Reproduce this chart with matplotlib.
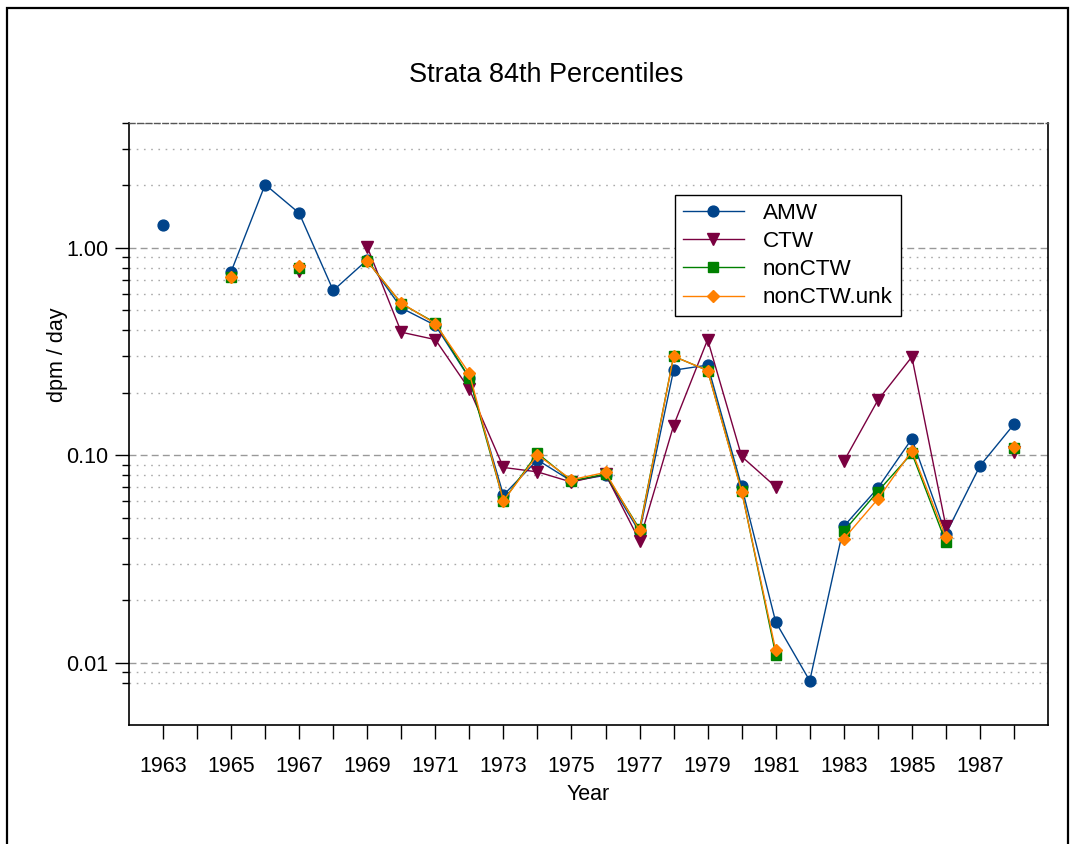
import numpy as np
import matplotlib
matplotlib.use('Agg')
import matplotlib.pyplot as plt
from matplotlib.patches import Rectangle
from matplotlib.ticker import FixedLocator, NullFormatter, FixedFormatter

plt.rcParams['font.family'] = ['Liberation Sans', 'DejaVu Sans']

nan = np.nan
years = list(range(1963, 1989))
amw = [1.29, nan, 0.767, 2.02, 1.47, 0.623, 0.875, 0.513, 0.423, 0.235,
       0.0642, 0.0949, 0.075, 0.080, 0.0426, 0.257, 0.272, 0.0707, 0.0157,
       0.00817, 0.0454, 0.0694, 0.120, 0.0417, 0.0888, 0.141]
ctw = [nan, nan, nan, nan, 0.77, nan, 1.01, 0.392, 0.361, 0.208,
       0.0873, 0.0831, 0.0742, 0.081, 0.0387, 0.139, 0.361, 0.0986, 0.0704,
       nan, 0.0933, 0.184, 0.298, 0.0454, nan, 0.104]
nonctw = [nan, nan, 0.726, nan, 0.80, nan, 0.866, 0.538, 0.435, 0.236,
          0.0603, 0.1022, 0.0752, 0.0811, 0.0441, 0.300, 0.256, 0.0674, 0.01093,
          nan, 0.0430, 0.0668, 0.1022, 0.038, nan, 0.108]
nonctw_unk = [nan, nan, 0.72, nan, 0.82, nan, 0.86, 0.542, 0.431, 0.248,
              0.0603, 0.1003, 0.0762, 0.0826, 0.0434, 0.300, 0.256, 0.0668, 0.01146,
              nan, 0.0395, 0.0614, 0.105, 0.0402, nan, 0.110]

series_names = ['AMW', 'CTW', 'nonCTW', 'nonCTW.unk']
title = 'Strata 84th Percentiles'
xlabel = 'Year'
ylabel = 'dpm / day'
major_y = [0.01, 0.1, 1.0]
major_y_labels = ['0.01', '0.10', '1.00']
minor_y = [0.008, 0.009] + [k * 0.01 for k in range(2, 10)] + \
          [k * 0.1 for k in range(2, 10)] + [2, 3, 4]

W, H = 1078, 844
fig = plt.figure(figsize=(W / 100, H / 100), dpi=100)
ax = fig.add_axes([129 / W, 1 - 725 / H, (1048 - 129) / W, (725 - 123) / H])

styles = [
    dict(color='#00438a', marker='o', ms=7.8),
    dict(color='#7a0040', marker='v', ms=8.4),
    dict(color='#008000', marker='s', ms=7.8),
    dict(color='#ff8000', marker='D', ms=6.0),
]
for name, vals, st in zip(series_names, [amw, ctw, nonctw, nonctw_unk], styles):
    ax.plot(years, vals, color=st['color'], marker=st['marker'], ms=st['ms'],
            mec=st['color'], mfc=st['color'], lw=1.0, label=name, zorder=3)

ax.set_yscale('log')
ax.set_ylim(0.005, 4.0)
ax.set_xlim(1962, 1989)

ax.yaxis.set_major_locator(FixedLocator(major_y))
ax.yaxis.set_major_formatter(FixedFormatter(major_y_labels))
ax.yaxis.set_minor_locator(FixedLocator(minor_y))
ax.yaxis.set_minor_formatter(NullFormatter())
ax.xaxis.set_major_locator(FixedLocator(years))
ax.set_xticklabels([str(y) if y % 2 == 1 else '' for y in years])

ax.tick_params(axis='both', which='major', labelsize=15.5, direction='out', color='black')
ax.tick_params(axis='y', which='major', length=10, width=1, pad=5)
ax.tick_params(axis='y', which='minor', length=5, width=1)
ax.tick_params(axis='x', which='major', length=10, width=1, pad=12)

ax.grid(True, axis='y', which='major', color='#999999', lw=1.0, linestyle=(0, (5, 3)), zorder=0)
ax.grid(True, axis='y', which='minor', color='#aaaaaa', lw=1.0, linestyle=(0, (1.2, 4)), zorder=0)
ax.set_axisbelow(True)

for s in ['left', 'bottom', 'right']:
    ax.spines[s].set_color('black')
    ax.spines[s].set_linewidth(1.2)
ax.spines['top'].set_color('#555555')
ax.spines['top'].set_linestyle((0, (4, 2)))
ax.spines['top'].set_linewidth(1.0)

leg = ax.legend(loc='upper left', bbox_to_anchor=(675 / W, 1 - 195 / H),
                bbox_transform=fig.transFigure, borderaxespad=0,
                fontsize=16.2, frameon=True, fancybox=False, shadow=False,
                framealpha=1, edgecolor='black', handlelength=2.7,
                handletextpad=0.85, labelspacing=0.32, borderpad=0.35)
leg.get_frame().set_linewidth(1.0)

fig.text(546 / W, 1 - 75 / H, title, ha='center', va='center', fontsize=19.5)
fig.text(588 / W, 1 - 794 / H, xlabel, ha='center', va='center', fontsize=15.5)
fig.text(57 / W, 1 - 355 / H, ylabel, ha='center', va='center', fontsize=15.5, rotation=90)

fig.add_artist(Rectangle((7 / W, -0.1), (1068 - 7) / W, 1 - 8 / H + 0.1,
                         transform=fig.transFigure, fill=False, ec='black',
                         lw=1.6, clip_on=False))

fig.savefig('out.png', dpi=100)
